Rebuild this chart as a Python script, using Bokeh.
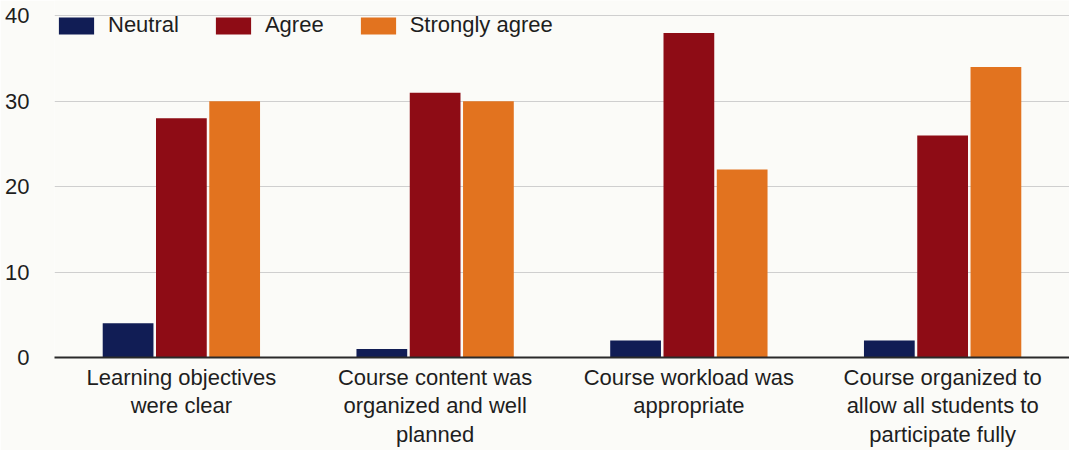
from bokeh.plotting import figure
from bokeh.models import Range1d, FactorRange, ColumnDataSource
from bokeh.transform import dodge
from bokeh.embed import file_html
from bokeh.resources import INLINE

categories = [
    "Learning objectives\nwere clear",
    "Course content was\norganized and well\nplanned",
    "Course workload was\nappropriate",
    "Course organized to\nallow all students to\nparticipate fully",
]
neutral = [4, 1, 2, 2]
agree = [28, 31, 38, 26]
strongly_agree = [30, 30, 22, 34]
series_names = ["Neutral", "Agree", "Strongly agree"]
y_ticks = [0, 10, 20, 30, 40]

colors = ["#111d55", "#8e0c15", "#e2731f"]
offsets = [-0.21, 0.0, 0.21]
FONT = "Liberation Sans"
BG = "#fbfbf8"

source = ColumnDataSource(data=dict(
    cat=categories, neutral=neutral, agree=agree, strongly=strongly_agree))

p = figure(
    x_range=FactorRange(factors=categories, range_padding=0),
    y_range=Range1d(0, 41.8),
    width=1069, height=450,
    output_backend="svg", toolbar_location=None,
    min_border_left=54, min_border_right=0, min_border_top=0, min_border_bottom=0,
)
p.background_fill_color = BG
p.border_fill_color = BG
p.outline_line_color = None

for col, name, color, off in zip(["neutral", "agree", "strongly"], series_names, colors, offsets):
    p.vbar(x=dodge("cat", off, range=p.x_range), top=col, width=0.2, source=source,
           fill_color=color, line_color=None, legend_label=name)

# grid
p.xgrid.grid_line_color = None
p.ygrid.grid_line_color = "#cfcfcf"
p.ygrid.grid_line_width = 1
p.yaxis.ticker = y_ticks

# y axis
p.yaxis.axis_line_color = None
p.yaxis.major_tick_line_color = None
p.yaxis.major_tick_out = 0
p.yaxis.major_tick_in = 0
p.yaxis.minor_tick_line_color = None
p.yaxis.major_label_standoff = 25
p.yaxis.major_label_text_font = FONT
p.yaxis.major_label_text_font_size = "22px"
p.yaxis.major_label_text_color = "#1e1e1e"

# x axis
p.xaxis.axis_line_color = "#2a2a2a"
p.xaxis.axis_line_width = 2
p.xaxis.major_tick_line_color = None
p.xaxis.major_tick_out = 0
p.xaxis.major_tick_in = 0
p.xaxis.minor_tick_line_color = None
p.xaxis.major_label_standoff = 7
p.xaxis.major_label_text_font = FONT
p.xaxis.major_label_text_font_size = "22px"
p.xaxis.major_label_text_color = "#1e1e1e"
p.xaxis.major_label_text_line_height = 1.15

# legend
lg = p.legend[0]
lg.orientation = "horizontal"
lg.location = (0, 319)
lg.margin = 0
lg.padding = 0
lg.spacing = 32
lg.glyph_width = 44
lg.glyph_height = 21
lg.label_standoff = 10
lg.label_text_font = FONT
lg.label_text_font_size = "22px"
lg.label_text_color = "#1e1e1e"
lg.border_line_color = None
lg.background_fill_alpha = 0

open("out.html", "w").write(file_html(p, INLINE))
